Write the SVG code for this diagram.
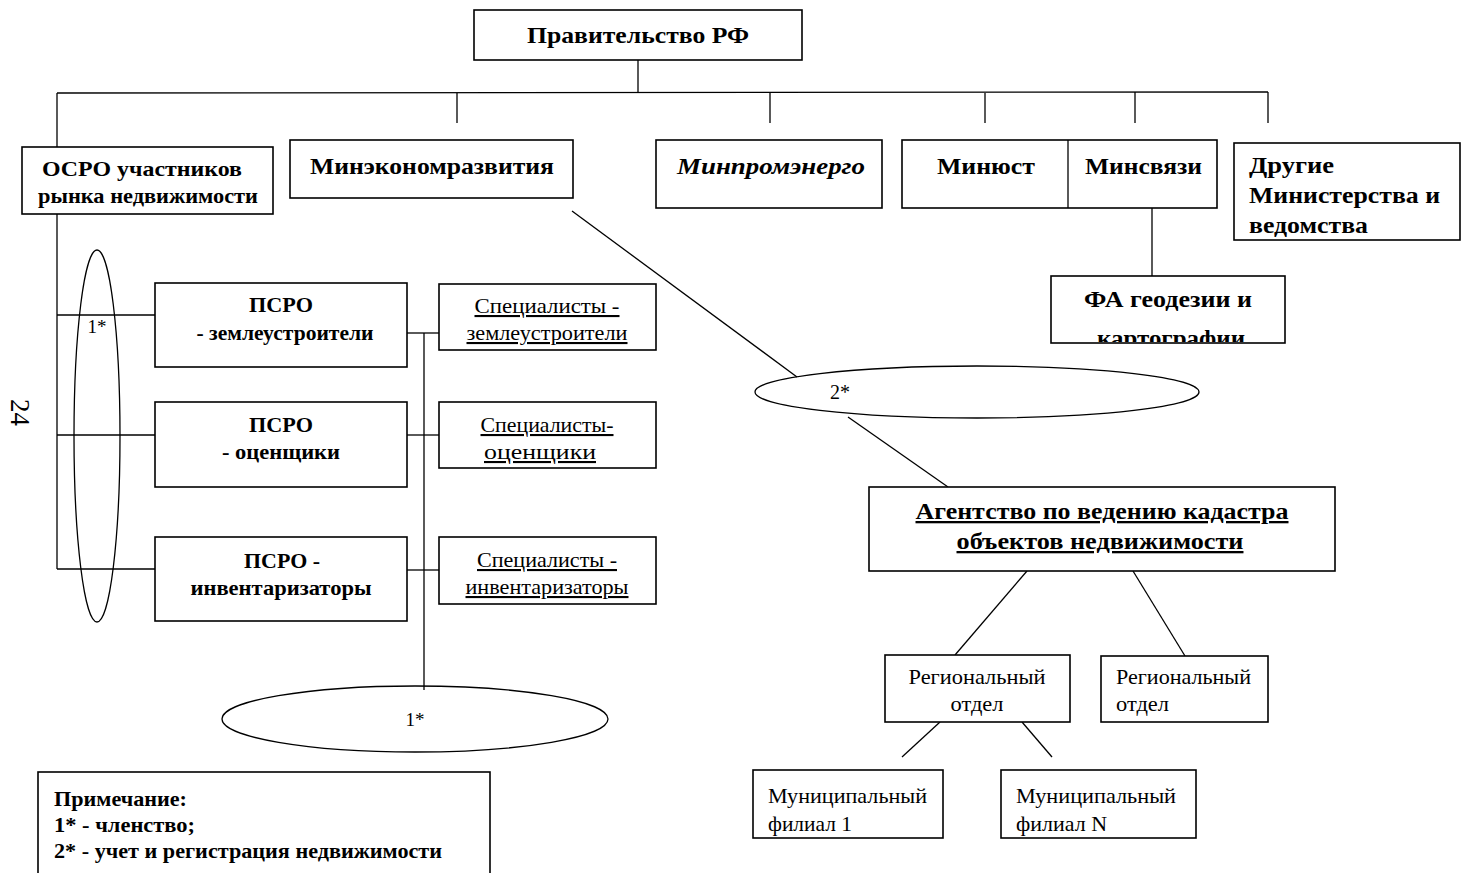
<svg xmlns="http://www.w3.org/2000/svg" width="1463" height="873" viewBox="0 0 1463 873">
<style>
.box{fill:#fff;stroke:#000;stroke-width:1.6}
.ln{stroke:#000;stroke-width:1.3;fill:none}
.b{font-family:"Liberation Serif","Times New Roman",serif;font-weight:bold;font-size:23px;fill:#000}
.bs{font-family:"Liberation Serif","Times New Roman",serif;font-weight:bold;font-size:21px;fill:#000}
.bi{font-style:italic}
.r{font-family:"Liberation Serif","Times New Roman",serif;font-size:21px;fill:#000}
.u{text-decoration:underline}
.c{text-anchor:middle}
</style>
<defs>
<clipPath id="clipFA"><rect x="1051" y="276" width="234" height="66"/></clipPath>
</defs>
<rect x="0" y="0" width="1463" height="873" fill="#fff"/>

<g id="connectors">
<line class="ln" x1="638" y1="60" x2="638" y2="93"/>
<line class="ln" x1="57" y1="93" x2="1268" y2="92"/>
<line class="ln" x1="57" y1="93" x2="57" y2="147"/>
<line class="ln" x1="457" y1="93" x2="457" y2="123"/>
<line class="ln" x1="770" y1="93" x2="770" y2="123"/>
<line class="ln" x1="985" y1="93" x2="985" y2="123"/>
<line class="ln" x1="1135" y1="92" x2="1135" y2="123"/>
<line class="ln" x1="1268" y1="92" x2="1268" y2="123"/>
<line class="ln" x1="1152" y1="208" x2="1152" y2="276"/>
<line class="ln" x1="57" y1="214" x2="57" y2="569"/>
<line class="ln" x1="57" y1="315" x2="155" y2="315"/>
<line class="ln" x1="57" y1="435" x2="155" y2="435"/>
<line class="ln" x1="57" y1="569" x2="155" y2="569"/>
<line class="ln" x1="424" y1="333" x2="424" y2="690"/>
<line class="ln" x1="407" y1="333" x2="439" y2="333"/>
<line class="ln" x1="407" y1="435" x2="439" y2="435"/>
<line class="ln" x1="407" y1="570" x2="439" y2="570"/>
<line class="ln" x1="572" y1="211" x2="797" y2="377"/>
<line class="ln" x1="848" y1="417" x2="948" y2="487"/>
<line class="ln" x1="1027" y1="571" x2="955" y2="655"/>
<line class="ln" x1="1133" y1="571" x2="1185" y2="656"/>
<line class="ln" x1="940" y1="722" x2="902" y2="757"/>
<line class="ln" x1="1022" y1="722" x2="1052" y2="757"/>
</g>

<g id="ellipse-membership-left">
<ellipse class="ln" cx="97" cy="436" rx="23" ry="186"/>
<text class="r c" x="97" y="333" style="font-size:19px">1*</text>
</g>
<g id="ellipse-membership-bottom">
<ellipse class="ln" cx="415" cy="719" rx="193" ry="33"/>
<text class="r c" x="415" y="726" style="font-size:19px">1*</text>
</g>
<g id="ellipse-registration">
<ellipse class="ln" cx="977" cy="392" rx="222" ry="26"/>
<text class="r c" x="840" y="399" style="font-size:20px">2*</text>
</g>

<g id="page-number">
<text class="r" transform="translate(11,399) rotate(90)" style="font-size:27px">24</text>
</g>

<g id="gov">
<rect class="box" x="474" y="10" width="328" height="50"/>
<text class="b c" x="638" y="43" textLength="222" lengthAdjust="spacingAndGlyphs">Правительство РФ</text>
</g>

<g id="osro">
<rect class="box" x="22" y="147" width="251" height="67"/>
<text class="bs c" x="142" y="176" textLength="200" lengthAdjust="spacingAndGlyphs">ОСРО участников</text>
<text class="bs c" x="148" y="203" textLength="220" lengthAdjust="spacingAndGlyphs">рынка недвижимости</text>
</g>

<g id="mineconom">
<rect class="box" x="290" y="140" width="283" height="58"/>
<text class="b" x="310" y="174" textLength="244" lengthAdjust="spacingAndGlyphs">Минэкономразвития</text>
</g>

<g id="minprom">
<rect class="box" x="656" y="140" width="226" height="68"/>
<text class="b bi" x="677" y="174" textLength="188" lengthAdjust="spacingAndGlyphs">Минпромэнерго</text>
</g>

<g id="minjust-minsvyaz">
<rect class="box" x="902" y="140" width="315" height="68"/>
<line class="ln" x1="1068" y1="140" x2="1068" y2="208"/>
<text class="b" x="937" y="174" textLength="98" lengthAdjust="spacingAndGlyphs">Минюст</text>
<text class="b" x="1085" y="174" textLength="117" lengthAdjust="spacingAndGlyphs">Минсвязи</text>
</g>

<g id="other">
<rect class="box" x="1234" y="143" width="226" height="97"/>
<text class="b" x="1249" y="173" textLength="85" lengthAdjust="spacingAndGlyphs">Другие</text>
<text class="b" x="1249" y="203" textLength="191" lengthAdjust="spacingAndGlyphs">Министерства и</text>
<text class="b" x="1249" y="233" textLength="119" lengthAdjust="spacingAndGlyphs">ведомства</text>
</g>

<g id="fa-geodesy">
<rect class="box" x="1051" y="276" width="234" height="67"/>
<g clip-path="url(#clipFA)">
<text class="b c" x="1168" y="307" textLength="168" lengthAdjust="spacingAndGlyphs">ФА геодезии и</text>
<text class="b c" x="1171" y="346" textLength="148" lengthAdjust="spacingAndGlyphs">картографии</text>
</g>
</g>

<g id="psro-land">
<rect class="box" x="155" y="283" width="252" height="84"/>
<text class="bs c" x="281" y="312" textLength="64" lengthAdjust="spacingAndGlyphs">ПСРО</text>
<text class="bs c" x="285" y="340" textLength="177" lengthAdjust="spacingAndGlyphs">- землеустроители</text>
</g>
<g id="psro-appr">
<rect class="box" x="155" y="402" width="252" height="85"/>
<text class="bs c" x="281" y="432" textLength="64" lengthAdjust="spacingAndGlyphs">ПСРО</text>
<text class="bs c" x="281" y="459" textLength="118" lengthAdjust="spacingAndGlyphs">- оценщики</text>
</g>
<g id="psro-inv">
<rect class="box" x="155" y="537" width="252" height="84"/>
<text class="bs c" x="282" y="568" textLength="76" lengthAdjust="spacingAndGlyphs">ПСРО -</text>
<text class="bs c" x="281" y="595" textLength="181" lengthAdjust="spacingAndGlyphs">инвентаризаторы</text>
</g>

<g id="spec-land">
<rect class="box" x="439" y="284" width="217" height="66"/>
<text class="r c u" x="547" y="313" textLength="145" lengthAdjust="spacingAndGlyphs">Специалисты  -</text>
<text class="r c u" x="547" y="340" textLength="161" lengthAdjust="spacingAndGlyphs">землеустроители</text>
</g>
<g id="spec-appr">
<rect class="box" x="439" y="402" width="217" height="66"/>
<text class="r c u" x="547" y="432" textLength="133" lengthAdjust="spacingAndGlyphs">Специалисты-</text>
<text class="r c u" x="540" y="459" textLength="112" lengthAdjust="spacingAndGlyphs">оценщики</text>
</g>
<g id="spec-inv">
<rect class="box" x="439" y="537" width="217" height="67"/>
<text class="r c u" x="547" y="567" textLength="140" lengthAdjust="spacingAndGlyphs">Специалисты -</text>
<text class="r c u" x="547" y="594" textLength="163" lengthAdjust="spacingAndGlyphs">инвентаризаторы</text>
</g>

<g id="note">
<rect class="box" x="38" y="772" width="452" height="110"/>
<text class="bs" x="54" y="806" textLength="133" lengthAdjust="spacingAndGlyphs">Примечание:</text>
<text class="bs" x="54" y="832" textLength="141" lengthAdjust="spacingAndGlyphs">1* - членство;</text>
<text class="bs" x="54" y="858" textLength="388" lengthAdjust="spacingAndGlyphs">2* - учет и регистрация недвижимости</text>
</g>

<g id="agency">
<rect class="box" x="869" y="487" width="466" height="84"/>
<text class="b c u" x="1102" y="519" textLength="373" lengthAdjust="spacingAndGlyphs">Агентство по ведению кадастра</text>
<text class="b c u" x="1100" y="549" textLength="287" lengthAdjust="spacingAndGlyphs">объектов недвижимости</text>
</g>

<g id="regional-1">
<rect class="box" x="885" y="655" width="185" height="67"/>
<text class="r c" x="977" y="684" textLength="137" lengthAdjust="spacingAndGlyphs">Региональный</text>
<text class="r c" x="977" y="711" textLength="53" lengthAdjust="spacingAndGlyphs">отдел</text>
</g>
<g id="regional-2">
<rect class="box" x="1101" y="656" width="167" height="66"/>
<text class="r" x="1116" y="684" textLength="135" lengthAdjust="spacingAndGlyphs">Региональный</text>
<text class="r" x="1116" y="711" textLength="53" lengthAdjust="spacingAndGlyphs">отдел</text>
</g>

<g id="municipal-1">
<rect class="box" x="753" y="770" width="190" height="68"/>
<text class="r" x="768" y="803" textLength="159" lengthAdjust="spacingAndGlyphs">Муниципальный</text>
<text class="r" x="768" y="831" textLength="84" lengthAdjust="spacingAndGlyphs">филиал 1</text>
</g>
<g id="municipal-n">
<rect class="box" x="1001" y="770" width="195" height="68"/>
<text class="r" x="1016" y="803" textLength="160" lengthAdjust="spacingAndGlyphs">Муниципальный</text>
<text class="r" x="1016" y="831" textLength="91" lengthAdjust="spacingAndGlyphs">филиал N</text>
</g>
</svg>
